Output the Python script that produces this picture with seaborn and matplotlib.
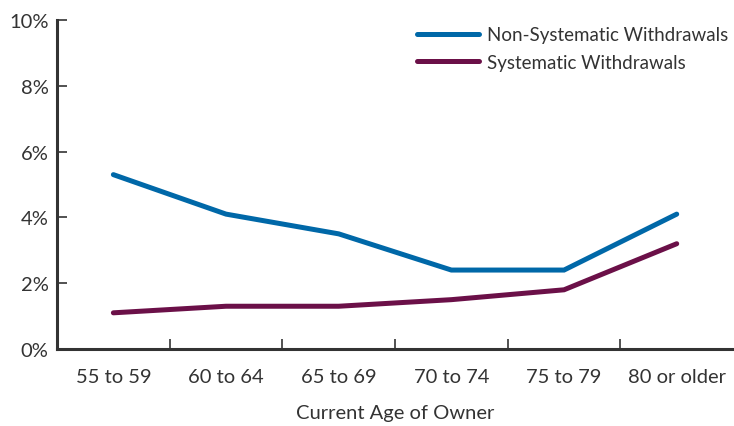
import matplotlib
matplotlib.use("Agg")
import matplotlib.pyplot as plt
import pandas as pd
import seaborn as sns
from matplotlib.ticker import FixedLocator, FuncFormatter

# values (percent)
age_groups = ["55 to 59", "60 to 64", "65 to 69", "70 to 74", "75 to 79", "80 or older"]
non_systematic = [5.3, 4.1, 3.5, 2.4, 2.4, 4.1]
systematic = [1.1, 1.3, 1.3, 1.5, 1.8, 3.2]
series_names = ["Non-Systematic Withdrawals", "Systematic Withdrawals"]
y_ticks = [0, 2, 4, 6, 8, 10]

sns.set_style("ticks")
plt.rcParams["font.family"] = ["Lato", "DejaVu Sans"]
text_color = "#333333"
fs = 14.5

df = pd.DataFrame({
    "pos": list(range(len(age_groups))) * 2,
    "value": non_systematic + systematic,
    "series": [series_names[0]] * len(age_groups) + [series_names[1]] * len(age_groups),
})

fig = plt.figure(figsize=(7.34, 4.27), dpi=100)
ax = fig.add_axes([0.0777, 0.1803, 0.921, 0.7705])

sns.lineplot(data=df, x="pos", y="value", hue="series", hue_order=series_names,
             palette=["#0068A8", "#6B1048"], linewidth=3.6, ax=ax,
             solid_capstyle="round", solid_joinstyle="miter")

ax.set_xlim(-0.5, len(age_groups) - 0.5)
ax.set_ylim(0, 10)
ax.set_xticks(range(len(age_groups)))
ax.set_xticklabels(age_groups)
ax.xaxis.set_minor_locator(FixedLocator([i + 0.5 for i in range(len(age_groups) - 1)]))
ax.set_yticks(y_ticks)
ax.yaxis.set_major_formatter(FuncFormatter(lambda v, _: f"{v:.0f}%"))

ax.tick_params(axis="x", which="major", length=0, pad=14, labelsize=fs, colors=text_color)
ax.tick_params(axis="x", which="minor", direction="in", length=7, width=1.2, color=text_color)
ax.tick_params(axis="y", direction="in", length=7, width=1.2, pad=6, labelsize=fs,
               colors=text_color)

for side in ["top", "right"]:
    ax.spines[side].set_visible(False)
for side in ["left", "bottom"]:
    ax.spines[side].set_linewidth(2.2)
    ax.spines[side].set_color(text_color)

ax.set_xlabel("Current Age of Owner", fontsize=fs, color=text_color, labelpad=13)
ax.set_ylabel("")

leg = ax.legend(loc="upper right", frameon=False, fontsize=13.5, handlelength=3.3,
                handletextpad=0.45, labelspacing=0.55, borderaxespad=0.2,
                bbox_to_anchor=(1.01, 1.015))
for txt in leg.get_texts():
    txt.set_color(text_color)

fig.savefig("out.png", dpi=100)
